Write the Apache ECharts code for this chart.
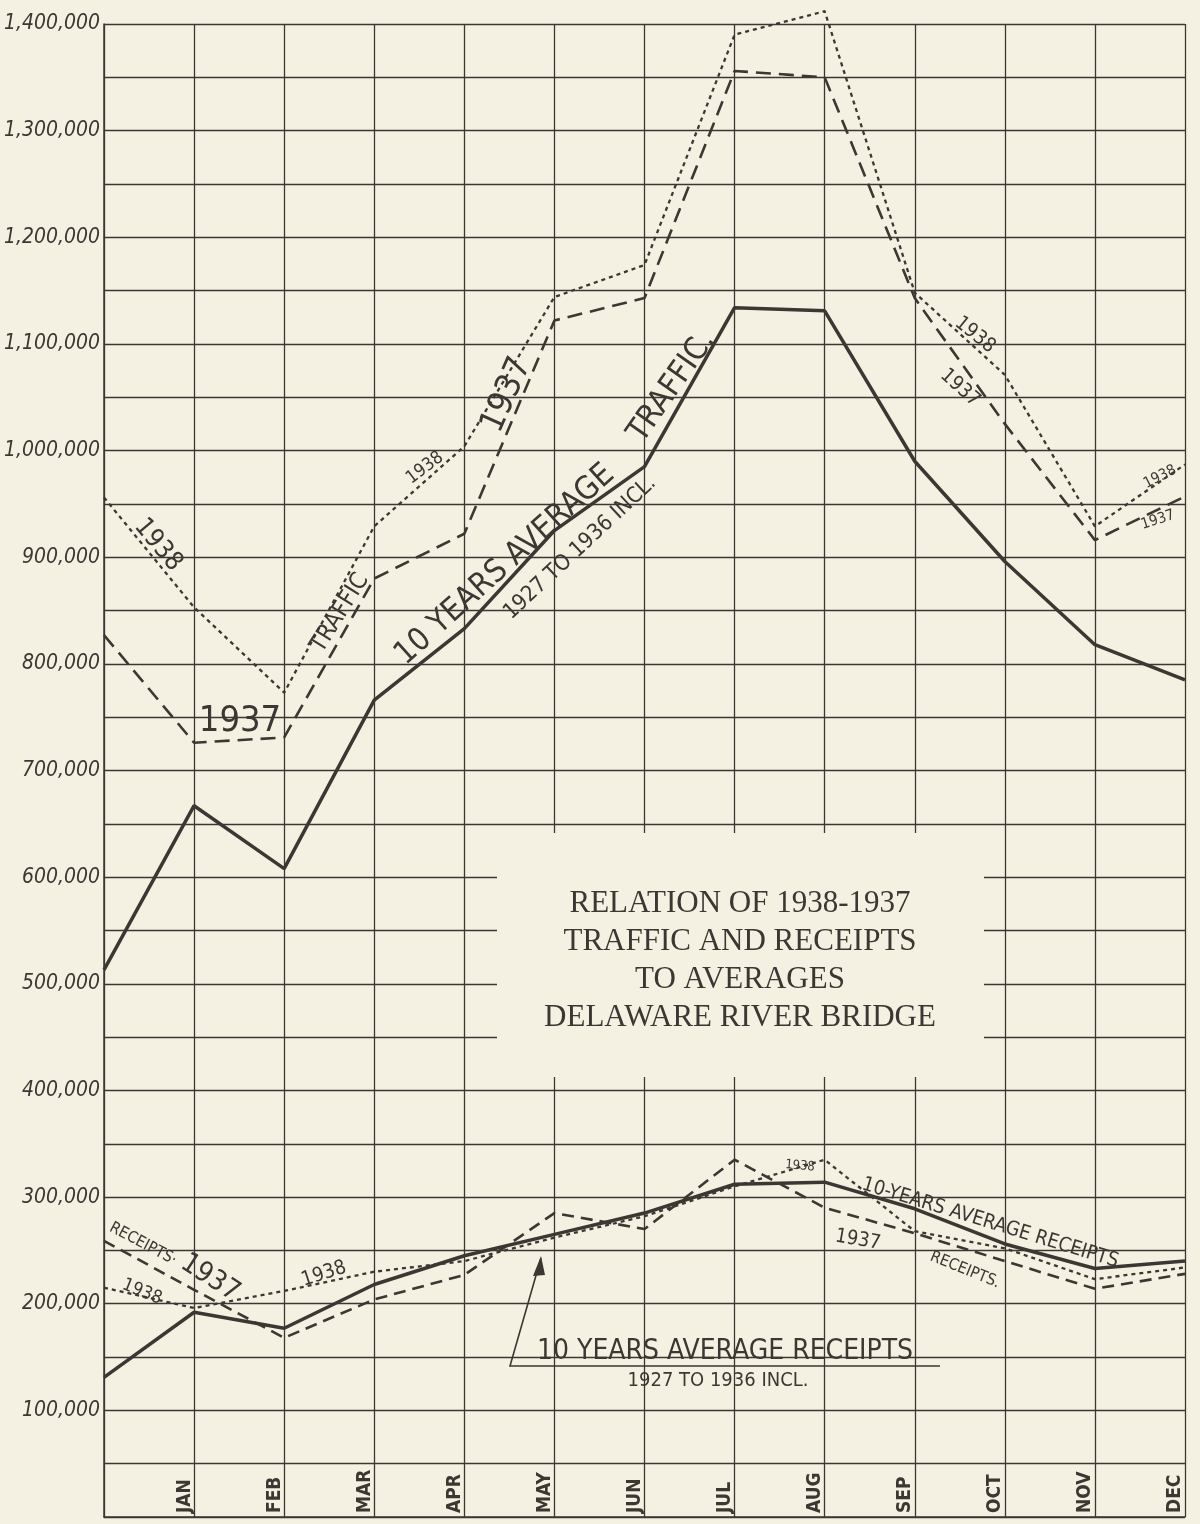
<!DOCTYPE html>
<html>
<head>
<meta charset="utf-8">
<script src="https://cdn.jsdelivr.net/npm/echarts@6/dist/echarts.min.js"></script>
<style>
  html, body { margin: 0; padding: 0; background: #f5f1e2; }
  #chart { width: 1200px; height: 1524px; }
</style>
</head>
<body>
<div id="chart"></div>
<script>
// months (first point is the start of the year, no label)
var months = ['', 'JAN', 'FEB', 'MAR', 'APR', 'MAY', 'JUN', 'JUL', 'AUG', 'SEP', 'OCT', 'NOV', 'DEC'];

// traffic
var trafficAvg  = [513000, 667000, 608000, 766000, 833000, 925000, 985000, 1134000, 1131000, 990000, 896000, 818000, 785000];
var traffic1937 = [827000, 726000, 731000, 880000, 922000, 1122000, 1143000, 1356000, 1350000, 1143000, 1025000, 916000, 957000];
var traffic1938 = [956000, 853000, 773000, 929000, 1004000, 1144000, 1174000, 1390000, 1412000, 1148000, 1071000, 929000, 987000];

// receipts
var receiptsAvg  = [131000, 192000, 177000, 218000, 245000, 265000, 285000, 312000, 314000, 289000, 256000, 233000, 240000];
var receipts1937 = [259000, 213000, 168000, 204000, 227000, 285000, 270000, 335000, 290000, 266000, 240000, 214000, 228000];
var receipts1938 = [215000, 196000, 212000, 230000, 240000, 262000, 282000, 310000, 335000, 268000, 252000, 223000, 234000];

var ink = '#3b3733';
var paper = '#f5f1e2';
var hand = "'Liberation Sans Narrow', 'DejaVu Sans Condensed', sans-serif";

function line(data, width, dash) {
    return {
        type: 'line',
        data: data,
        symbol: 'none',
        clip: false,
        z: 5,
        lineStyle: { color: ink, width: width, type: dash }
    };
}

function note(text, x, y, deg, size, weight) {
    return {
        type: 'text', x: x, y: y, z: 60,
        rotation: deg * Math.PI / 180,
        style: {
            text: text, fill: ink, align: 'center', verticalAlign: 'middle',
            font: (weight || 'normal') + ' ' + size + 'px ' + hand
        }
    };
}

var myChart = echarts.init(document.getElementById('chart'));
myChart.setOption({
    backgroundColor: paper,
    animation: false,
    grid: { left: 104, right: 15, top: 24, bottom: 7 },
    xAxis: {
        type: 'category',
        data: months,
        boundaryGap: false,
        axisLine: { lineStyle: { color: ink, width: 1.5 } },
        axisTick: { show: false },
        splitLine: { show: true, lineStyle: { color: ink, width: 1.3 } },
        axisLabel: {
            inside: true, rotate: 90, margin: 4, interval: 0,
            verticalAlign: 'bottom',
            color: ink, fontSize: 19, fontWeight: 'bold', fontFamily: hand
        }
    },
    yAxis: {
        type: 'value',
        min: 0, max: 1400000, interval: 50000,
        axisLine: { show: true, lineStyle: { color: ink, width: 1.5 } },
        axisTick: { show: false },
        splitLine: { lineStyle: { color: ink, width: 1.3 } },
        axisLabel: {
            margin: 4, color: ink, fontSize: 21, fontStyle: 'italic', fontFamily: hand,
            formatter: function (v) {
                return (v > 0 && v % 100000 === 0) ? v.toLocaleString('en-US') : '';
            }
        }
    },
    series: [
        line(trafficAvg, 3.5, 'solid'),
        line(traffic1937, 2.6, [15, 8]),
        line(traffic1938, 2.3, [4, 4]),
        line(receiptsAvg, 3.5, 'solid'),
        line(receipts1937, 2.6, [12, 7]),
        line(receipts1938, 2.3, [4, 4])
    ],
    graphic: [
        // title panel
        { type: 'rect', z: 40, shape: { x: 497, y: 833, width: 487, height: 244 }, style: { fill: paper } },
        {
            type: 'text', z: 45, x: 740, y: 961,
            style: {
                text: 'RELATION OF 1938-1937\nTRAFFIC AND RECEIPTS\nTO AVERAGES\nDELAWARE RIVER BRIDGE',
                fill: ink, align: 'center', verticalAlign: 'middle', lineHeight: 38,
                font: "31px 'Liberation Serif', serif"
            }
        },
        // traffic notes
        note('1938', 158, 545, -50, 26),
        note('1937', 240, 722, 0, 36),
        note('TRAFFIC', 340, 613, 58, 24),
        note('1938', 425, 468, 37, 18),
        note('1937', 507, 395, 66, 34),
        note('10 YEARS AVERAGE', 505, 565, 42, 32),
        note('TRAFFIC.', 672, 387, 55, 32),
        note('1927 TO 1936 INCL.', 580, 548, 43, 22),
        note('1938', 975, 335, -39, 20),
        note('1937', 960, 388, -42, 20),
        note('1938', 1160, 477, 27, 15),
        note('1937', 1158, 520, 18, 15),
        // receipts notes
        note('RECEIPTS·', 143, 1244, -28, 16),
        note('1937', 210, 1278, -33, 28),
        note('1938', 142, 1292, -22, 18),
        note('1938', 324, 1274, 18, 20),
        note('1938', 800, 1166, -5, 13),
        note('10-YEARS AVERAGE RECEIPTS.', 993, 1224, -17, 20),
        note('1937', 858, 1240, -10, 20),
        note('RECEIPTS.', 965, 1270, -22, 16),
        note('10 YEARS AVERAGE RECEIPTS', 725, 1352, 0, 28),
        note('1927 TO 1936 INCL.', 718, 1381, 0, 20),
        { type: 'polyline', z: 60, shape: { points: [[940, 1366], [510, 1366], [541, 1258]] }, style: { stroke: ink, lineWidth: 1.6, fill: null } },
        { type: 'polygon', z: 60, shape: { points: [[541, 1256], [533, 1276], [545, 1275]] }, style: { fill: ink } }
    ]
});
</script>
</body>
</html>
